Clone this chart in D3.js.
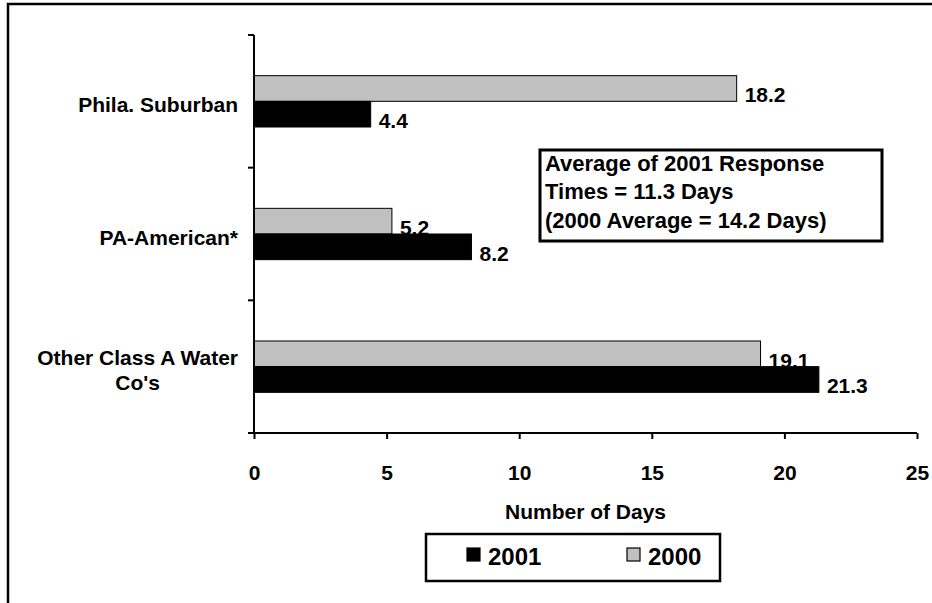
<!DOCTYPE html>
<html>
<head>
<meta charset="utf-8">
<script src="https://cdn.jsdelivr.net/npm/d3@7"></script>
<style>
  html, body { margin: 0; padding: 0; background: #fff; }
  svg { display: block; font-family: "Liberation Sans", Arial, sans-serif; font-weight: bold; }
</style>
</head>
<body>
<svg id="chart" width="932" height="603"></svg>
<script>
const categories = ["Phila. Suburban", "PA-American*", "Other Class A Water Co's"];
const categoryLines = [["Phila. Suburban"], ["PA-American*"], ["Other Class A Water", "Co's"]];
const seriesNames = ["2000", "2001"];
const values2000 = [18.2, 5.2, 19.1];
const values2001 = [4.4, 8.2, 21.3];
const xTicks = [0, 5, 10, 15, 20, 25];
const axisTitle = "Number of Days";
const noteLines = ["Average of 2001 Response", "Times = 11.3 Days", "(2000 Average = 14.2 Days)"];
const legendItems = ["2001", "2000"];

const colors = { "2000": "#C0C0C0", "2001": "#000000" };
const seriesValues = { "2000": values2000, "2001": values2001 };

const svg = d3.select("#chart");

// outer frame (extends beyond the window on right/bottom)
svg.append("rect").attr("x", 8).attr("y", 4).attr("width", 1000).attr("height", 1000)
  .attr("fill", "none").attr("stroke", "#000").attr("stroke-width", 2.5);

const x0 = 254, x1 = 917, yTop = 35, yBot = 433;
const x = d3.scaleLinear().domain([0, 25]).range([x0, x1]);
const pad = 0.613;
const y = d3.scaleBand().domain(categories).range([yTop, yBot]).paddingInner(pad).paddingOuter(pad / 2);
const ys = d3.scaleBand().domain(seriesNames).range([0, y.bandwidth()]);

// bars
const g = svg.append("g");
categories.forEach((c, i) => {
  seriesNames.forEach(s => {
    const v = seriesValues[s][i];
    g.append("rect")
      .attr("x", x(0))
      .attr("y", y(c) + ys(s))
      .attr("width", x(v) - x(0))
      .attr("height", ys.bandwidth())
      .attr("fill", colors[s])
      .attr("stroke", "#000").attr("stroke-width", 1);
  });
});

// value labels
categories.forEach((c, i) => {
  seriesNames.forEach(s => {
    const v = seriesValues[s][i];
    svg.append("text")
      .attr("x", x(v) + 8)
      .attr("y", y(c) + ys(s) + ys.bandwidth() + 1)
      .attr("font-size", 21)
      .attr("fill", "#000")
      .text(v.toFixed(1));
  });
});

// y axis line + ticks (category boundaries)
svg.append("line").attr("x1", x0).attr("x2", x0).attr("y1", yTop).attr("y2", yBot)
  .attr("stroke", "#000").attr("stroke-width", 2);
const step = (yBot - yTop) / categories.length;
d3.range(categories.length + 1).forEach(k => {
  const yy = yTop + k * step;
  svg.append("line").attr("x1", x0 - 6).attr("x2", x0).attr("y1", yy).attr("y2", yy)
    .attr("stroke", "#000").attr("stroke-width", 2);
});

// x axis
const xAxis = d3.axisBottom(x).tickValues(xTicks).tickSize(6).tickPadding(0).tickFormat(d3.format("d"));
const xg = svg.append("g").attr("transform", `translate(0,${yBot})`).call(xAxis);
xg.select(".domain").attr("stroke-width", 2).attr("d", `M${x0 - 6},0H${x1}`);
xg.selectAll(".tick line").attr("stroke-width", 2);
xg.selectAll(".tick text").attr("font-size", 21).attr("font-family", null).attr("fill", "#000")
  .attr("dy", null).attr("y", 47);
xg.attr("font-family", null).attr("font-size", null);

// category labels
categories.forEach((c, i) => {
  const lines = categoryLines[i];
  const cy = y(c) + y.bandwidth() / 2;
  const t = svg.append("text").attr("font-size", 21).attr("text-anchor", "middle");
  const lh = 25;
  const tmp = lines.map(l => {
    const tt = svg.append("text").attr("font-size", 21).text(l);
    const w = tt.node().getComputedTextLength(); tt.remove(); return w;
  });
  const maxW = d3.max(tmp);
  const cx = 238 - maxW / 2;
  lines.forEach((l, j) => {
    t.append("tspan").attr("x", cx)
      .attr("y", cy - (lines.length - 1) * lh / 2 + j * lh + 11)
      .text(l);
  });
});

// axis title
svg.append("text").attr("x", (x0 + x1) / 2).attr("y", 519).attr("text-anchor", "middle")
  .attr("font-size", 21).text(axisTitle);

// annotation box
svg.append("rect").attr("x", 540).attr("y", 150).attr("width", 342).attr("height", 91)
  .attr("fill", "#fff").attr("stroke", "#000").attr("stroke-width", 3);
noteLines.forEach((l, j) => {
  svg.append("text").attr("x", 545).attr("y", 171 + j * 28.3).attr("font-size", 22).text(l);
});

// legend
svg.append("rect").attr("x", 426).attr("y", 534).attr("width", 294).attr("height", 47)
  .attr("fill", "#fff").attr("stroke", "#000").attr("stroke-width", 2.5);
const legX = [467, 627];
legendItems.forEach((s, k) => {
  svg.append("rect").attr("x", legX[k]).attr("y", 548).attr("width", 13).attr("height", 13)
    .attr("fill", colors[s]).attr("stroke", "#000").attr("stroke-width", 1.2);
  svg.append("text").attr("x", legX[k] + 21).attr("y", 565).attr("font-size", 24).text(s);
});
</script>
</body>
</html>
